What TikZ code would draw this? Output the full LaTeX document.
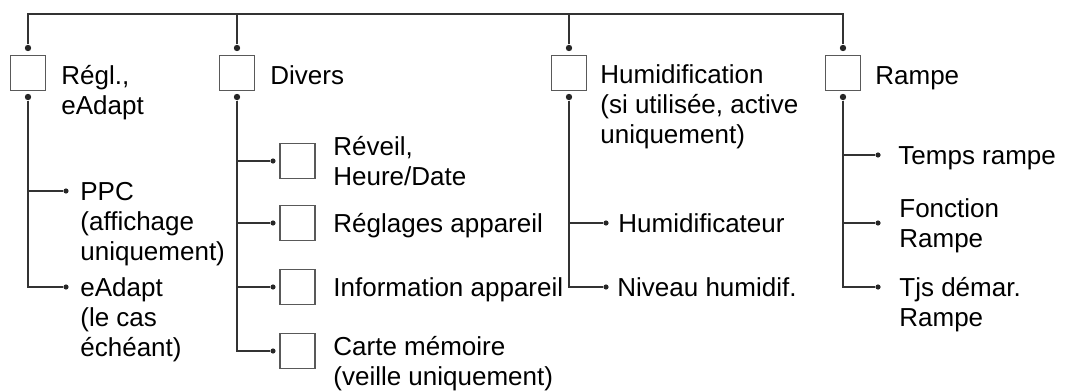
\documentclass[tikz,border=0pt]{standalone}
\usepackage{fontspec}
\setmainfont{Liberation Sans}
\usetikzlibrary{positioning}

\begin{document}
\begin{tikzpicture}[x=0.5pt,y=-0.5pt,
  box/.style={draw=black!65,line width=0.65pt,minimum size=17.5pt,inner sep=0pt},
  dot/.style={circle,fill=black!85,inner sep=0pt,minimum size=3.2pt},
  tip/.style={circle,fill=black!85,inner sep=0pt,minimum size=2.6pt},
  lbl/.style={anchor=base west,align=left,inner sep=0pt,font=\fontsize{13}{15}\selectfont},
  wire/.style={draw=black!80,line width=0.6pt}]
\useasboundingbox (0,0) rectangle (1078,391);

% main menu entries
\node[box] (regl) at (28,73) {};
\node[box] (divers) at (237,73) {};
\node[box] (humid) at (569,73) {};
\node[box] (rampe) at (843,73) {};
\node[lbl] (reglL) at (61,114) {Régl.,\\eAdapt};
\node[lbl] (diversL) at (270,84) {Divers};
\node[lbl] (humidL) at (600,143) {Humidification\\(si utilisée, active\\uniquement)};
\node[lbl] (rampeL) at (875,84) {Rampe};

\node[dot] (reglIn) at (28,48) {};
\node[dot] (diversIn) at (237,48) {};
\node[dot] (humidIn) at (569,48) {};
\node[dot] (rampeIn) at (843,48) {};
\node[dot] (reglOut) at (28,97) {};
\node[dot] (diversOut) at (237,97) {};
\node[dot] (humidOut) at (569,97) {};
\node[dot] (rampeOut) at (843,97) {};

% top bar
\coordinate (bar) at (400,14);
\draw[wire] (reglIn) |- (bar) -| (rampeIn);
\draw[wire] (diversIn) -- (diversIn |- bar);
\draw[wire] (humidIn) -- (humidIn |- bar);

% Regl., eAdapt
\node[tip] (ppcT) at (66,191) {};
\node[tip] (eadT) at (66,287) {};
\draw[wire] (reglOut) |- (ppcT);
\draw[wire] (reglOut) |- (eadT);
\node[lbl] (ppc) at (80,260) {PPC\\(affichage\\uniquement)};
\node[lbl] (ead) at (80,356) {eAdapt\\(le cas\\échéant)};

% Divers
\node[box] (reveil) at (297.5,161) {};
\node[box] (reglages) at (297.5,223) {};
\node[box] (info) at (297.5,287) {};
\node[box] (carte) at (297.5,351) {};
\node[tip] (reveilT) at (273,161) {};
\node[tip] (reglagesT) at (273,223) {};
\node[tip] (infoT) at (273,287) {};
\node[tip] (carteT) at (273,351) {};
\draw[wire] (diversOut) |- (reveilT);
\draw[wire] (diversOut) |- (reglagesT);
\draw[wire] (diversOut) |- (infoT);
\draw[wire] (diversOut) |- (carteT);
\node[lbl] (reveilL) at (333,185) {Réveil,\\Heure/Date};
\node[lbl] (reglagesL) at (333,232) {Réglages appareil};
\node[lbl] (infoL) at (333,296) {Information appareil};
\node[lbl] (carteL) at (333,385) {Carte mémoire\\(veille uniquement)};

% Humidification
\node[tip] (humT) at (606,223) {};
\node[tip] (nivT) at (606,287) {};
\draw[wire] (humidOut) |- (humT);
\draw[wire] (humidOut) |- (nivT);
\node[lbl] (humL) at (618,232) {Humidificateur};
\node[lbl] (nivL) at (617,296) {Niveau humidif.};

% Rampe
\node[tip] (tempsT) at (878,155) {};
\node[tip] (fonctT) at (878,223) {};
\node[tip] (tjsT) at (878,287) {};
\draw[wire] (rampeOut) |- (tempsT);
\draw[wire] (rampeOut) |- (fonctT);
\draw[wire] (rampeOut) |- (tjsT);
\node[lbl] (tempsL) at (898,164) {Temps rampe};
\node[lbl] (fonctL) at (899,247) {Fonction\\Rampe};
\node[lbl] (tjsL) at (899,326) {Tjs démar.\\Rampe};
\end{tikzpicture}
\end{document}
